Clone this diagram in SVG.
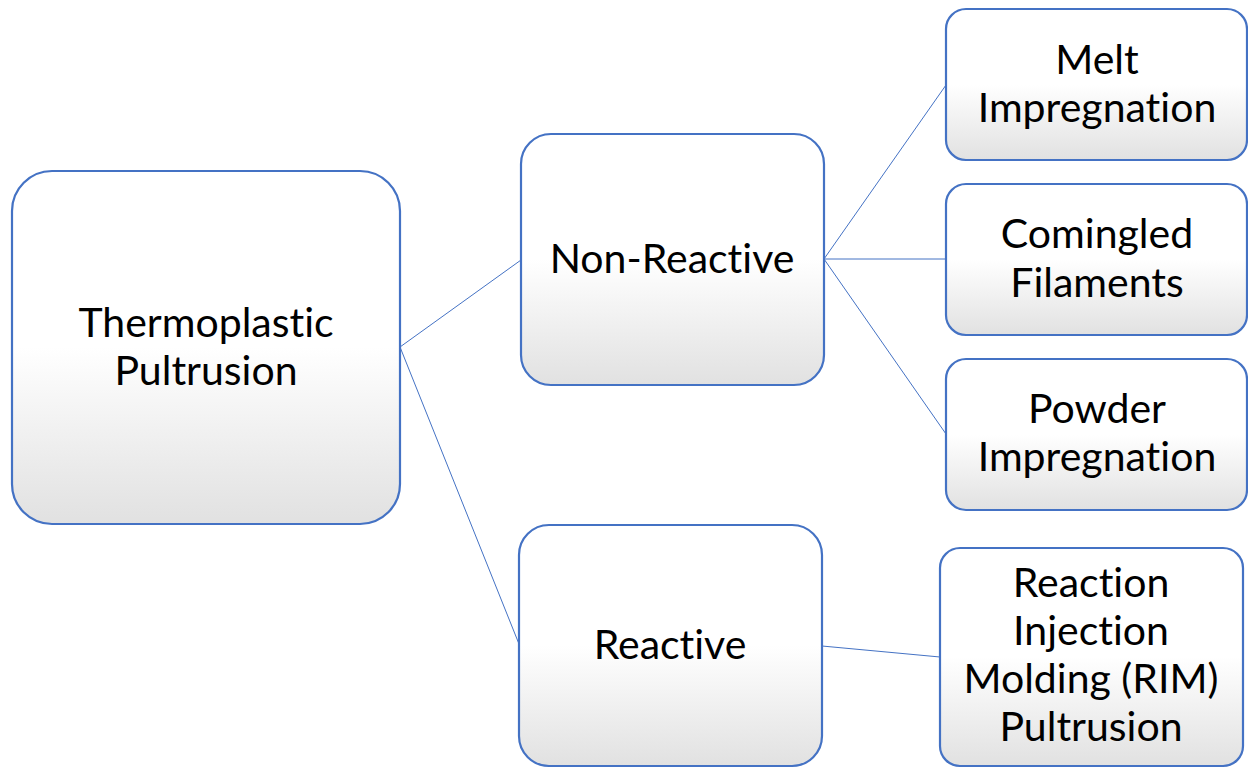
<svg xmlns="http://www.w3.org/2000/svg" width="1248" height="768" viewBox="0 0 1248 768">
<defs>
<linearGradient id="g" x1="0" y1="0" x2="0" y2="1">
<stop offset="0" stop-color="#ffffff"/>
<stop offset="0.5" stop-color="#ffffff"/>
<stop offset="1" stop-color="#e1e1e1"/>
</linearGradient>
<style>
.box{fill:url(#g);stroke:#4472C4;stroke-width:2.2}
.t{font-family:Lato,"Liberation Sans",sans-serif;font-size:41px;fill:#000;text-anchor:middle;font-variant-ligatures:none;font-feature-settings:"liga" 0}
.c{stroke:#4472C4;stroke-width:1;fill:none}
</style>
</defs>
<rect width="1248" height="768" fill="#fff"/>
<g id="connectors">
<line class="c" x1="400" y1="347" x2="521" y2="260"/>
<line class="c" x1="400" y1="347" x2="519" y2="644"/>
<line class="c" x1="824" y1="259" x2="946" y2="85"/>
<line class="c" x1="824" y1="259" x2="946" y2="259"/>
<line class="c" x1="824" y1="259" x2="946" y2="434"/>
<line class="c" x1="822" y1="646" x2="940" y2="657"/>
</g>
<g id="thermoplastic">
<rect class="box" x="12" y="171" width="388" height="353" rx="40"/>
<text class="t" x="206" y="337">Thermoplastic</text>
<text class="t" x="206" y="385">Pultrusion</text>
</g>
<g id="nonreactive">
<rect class="box" x="521" y="134" width="303" height="251" rx="30"/>
<text class="t" x="672" y="273">Non-Reactive</text>
</g>
<g id="reactive">
<rect class="box" x="519" y="525" width="303" height="241" rx="30"/>
<text class="t" x="670" y="659">Reactive</text>
</g>
<g id="melt">
<rect class="box" x="946" y="9" width="301" height="151" rx="20"/>
<text class="t" x="1097" y="74">Melt</text>
<text class="t" x="1097" y="122">Impregnation</text>
</g>
<g id="comingled">
<rect class="box" x="946" y="184" width="301" height="151" rx="20"/>
<text class="t" x="1097" y="248">Comingled</text>
<text class="t" x="1097" y="297">Filaments</text>
</g>
<g id="powder">
<rect class="box" x="946" y="359" width="301" height="151" rx="20"/>
<text class="t" x="1097" y="423">Powder</text>
<text class="t" x="1097" y="471">Impregnation</text>
</g>
<g id="rim">
<rect class="box" x="940" y="548" width="303" height="218" rx="20"/>
<text class="t" x="1091" y="597">Reaction</text>
<text class="t" x="1091" y="645">Injection</text>
<text class="t" x="1091" y="693">Molding (RIM)</text>
<text class="t" x="1091" y="741">Pultrusion</text>
</g>
</svg>
